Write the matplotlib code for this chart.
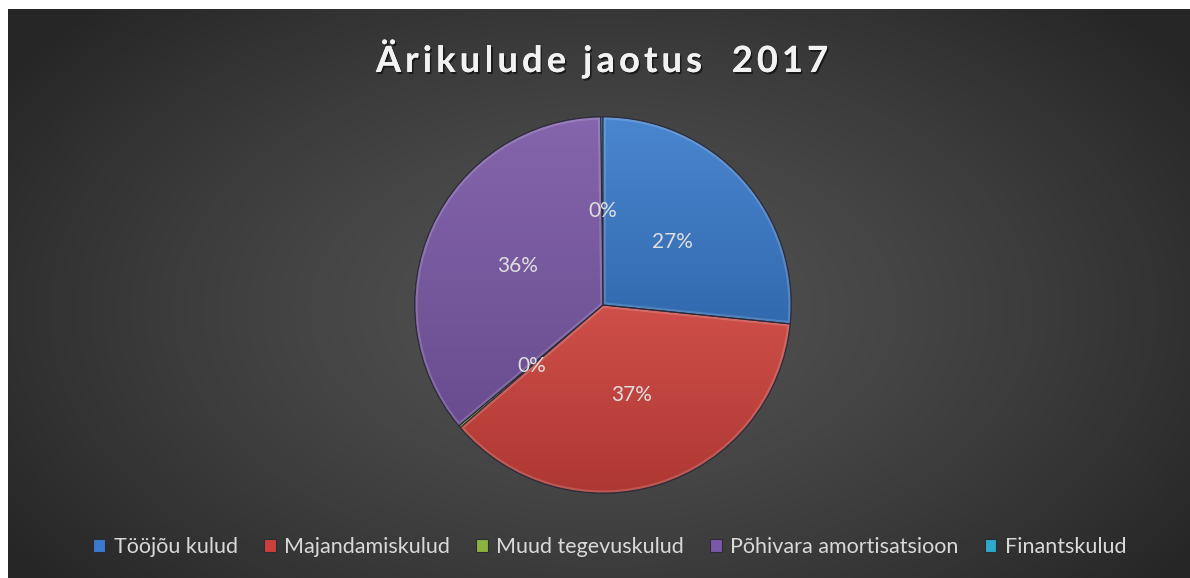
import numpy as np
import matplotlib
matplotlib.use("Agg")
import matplotlib.pyplot as plt
import matplotlib.patheffects as pe
from matplotlib.colors import LinearSegmentedColormap, to_rgb
from matplotlib.patches import Wedge

# ---------------- data ----------------
title = "Ärikulude jaotus  2017"
categories = ["Tööjõu kulud", "Majandamiskulud", "Muud tegevuskulud",
              "Põhivara amortisatsioon", "Finantskulud"]
shares = [26.6, 37.1, 0.2, 35.9, 0.2]
colors = ["#3A7BCB", "#CB403A", "#8CB23F", "#7A58A6", "#2FA9C9"]

W, H = 1190, 578
fig = plt.figure(figsize=(W / 100, H / 100), dpi=100, facecolor="white")

# ---------------- background (radial gradient) ----------------
bg = fig.add_axes([8 / W, 0, 1 - 8 / W, (H - 9) / H])
bg.set_axis_off()
yy, xx = np.mgrid[0:569, 0:1182]
d = np.sqrt(((xx - 595) / 720.0) ** 2 + ((yy - 300) / 430.0) ** 2)
d = np.clip(d, 0, 1)
val = (0x53 - (0x53 - 0x26) * d ** 1.3) / 255.0
bg.imshow(np.dstack([val, val, val]), aspect="auto", extent=(0, 1, 0, 1),
          origin="upper", interpolation="bilinear")
bg.set_xlim(0, 1)
bg.set_ylim(0, 1)

# ---------------- pie ----------------
cx, cy, r = 603, H - 305, 190
ax = fig.add_axes([(cx - r) / W, (cy - r) / H, 2 * r / W, 2 * r / H])
ax.set_axis_off()
wedges, texts, autotexts = ax.pie(
    shares, colors=colors, startangle=90, counterclock=False,
    autopct="%.0f%%", pctdistance=0.5, radius=1.0,
    wedgeprops=dict(edgecolor="#2b2b3a", linewidth=0.8),
    textprops=dict(color="#DEDEDE", fontsize=15, family=["Lato", "DejaVu Sans"]))
ax.set_aspect("equal")


def shade(c, f):
    c = np.array(to_rgb(c))
    if f >= 0:
        return tuple(c + (1 - c) * f)
    return tuple(c * (1 + f))


for w, c in zip(wedges, colors):
    if abs(w.theta2 - w.theta1) < 2:
        continue
    ext = w.get_path().get_extents()
    cmap = LinearSegmentedColormap.from_list("g", [shade(c, 0.08), shade(c, -0.14)])
    grad = np.linspace(0, 1, 256).reshape(-1, 1)
    im = ax.imshow(grad, cmap=cmap, aspect="auto", origin="upper",
                   extent=(ext.x0, ext.x1, ext.y0, ext.y1), zorder=1.5,
                   interpolation="bilinear")
    im.set_clip_path(w)
    rim = Wedge((0, 0), 1.0, w.theta1, w.theta2, facecolor="none",
                edgecolor=(1, 1, 1, 0.16), linewidth=4.0, zorder=1.6)
    ax.add_patch(rim)
    rim.set_clip_path(w)
    outline = Wedge((0, 0), 1.0, w.theta1, w.theta2, facecolor="none",
                    edgecolor="#2b2b3a", linewidth=0.8, zorder=1.7)
    ax.add_patch(outline)

for t in autotexts:
    t.set_zorder(3)
ax.set_xlim(-1.01, 1.01)
ax.set_ylim(-1.01, 1.01)

# ---------------- title with letter spacing ----------------
renderer = fig.canvas.get_renderer()
tprops = dict(fontsize=26, fontweight="bold", color="#F2F2F2",
              family=["Lato", "DejaVu Sans"])


def text_w(s):
    t = fig.text(0, 0, s, **tprops)
    wpx = t.get_window_extent(renderer).width
    t.remove()
    return wpx


space_w = text_w("x x") - text_w("xx")
widths = [space_w if ch == " " else text_w(ch) for ch in title]
target = 452.0
gap = (target - sum(widths)) / (len(title) - 1)
x = 602 - target / 2
baseline = H - 72
for ch, wch in zip(title, widths):
    if ch != " ":
        fig.text(x / W, baseline / H, ch, ha="left", va="baseline",
                 path_effects=[pe.withSimplePatchShadow(offset=(1.2, -1.5),
                                                        shadow_rgbFace="black",
                                                        alpha=0.55),
                               pe.Normal()],
                 **tprops)
    x += wch + gap

# ---------------- legend ----------------
leg = fig.legend(wedges, categories, loc="center", ncol=5,
                 bbox_to_anchor=(610 / W, (H - 547) / H), frameon=False,
                 handlelength=0.55, handleheight=0.55, handletextpad=0.4,
                 columnspacing=1.2, borderaxespad=0,
                 prop=dict(family=["Lato", "DejaVu Sans"], size=15.5))
for t in leg.get_texts():
    t.set_color("#D9D9D9")

fig.savefig("out.png", dpi=100, facecolor=fig.get_facecolor())
